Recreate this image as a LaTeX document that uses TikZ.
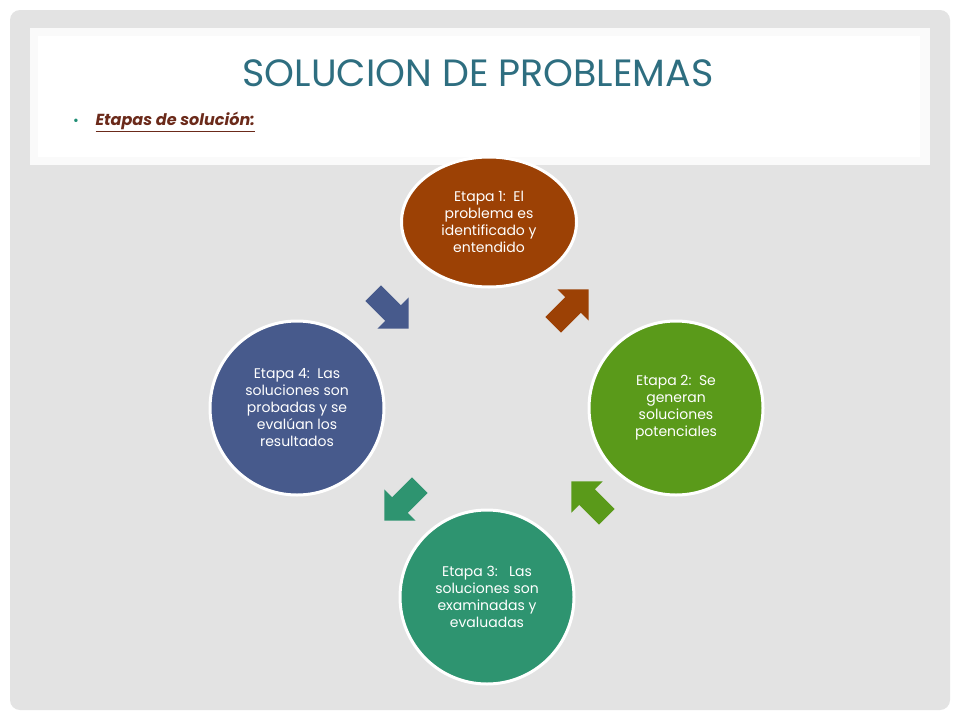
\documentclass[tikz,border=0pt]{standalone}
\usepackage{fontspec}
\setmainfont{Poppins}
\usetikzlibrary{shapes.geometric}
\begin{document}
\begin{tikzpicture}[x=1pt,y=-1pt,
  stage/.style={draw=white,line width=3pt,text=white,align=center,font=\fontsize{14}{17}\selectfont,inner sep=0pt}]
\definecolor{cA}{HTML}{9C4105}\definecolor{cB}{HTML}{5A9A1A}
\definecolor{cC}{HTML}{2E9470}\definecolor{cD}{HTML}{475A8C}
\definecolor{ttl}{HTML}{2E6E80}\definecolor{bul}{HTML}{6B2A1A}
\useasboundingbox (0,0) rectangle (960,720);
\fill[white] (0,0) rectangle (960,720);
\fill[gray!22,rounded corners=10pt] (10,10) rectangle (950,710);
\fill[white!96!gray] (30,28) rectangle (930,165);
\fill[white] (38,36) rectangle (920,157);
\node[text=ttl,font=\fontsize{38}{40}\selectfont] (title) at (478,73) {SOLUCION DE PROBLEMAS};
\node[text=cC!70!teal,font=\fontsize{14}{14}\selectfont] (dot) at (76,122) {•};
\node[anchor=west,text=bul,font=\fontsize{16}{16}\selectfont\bfseries\itshape] (sub) at (92,122) {\underline{Etapas de solución:}};
\node[stage,ellipse,fill=cA,minimum width=175,minimum height=130] (s1) at (489,222) {Etapa 1:\ \ El\\problema es\\identificado y\\entendido};
\node[stage,circle,fill=cB,minimum size=174] (s2) at (676,408) {Etapa 2:\ \ Se\\generan\\soluciones\\potenciales};
\node[stage,circle,fill=cC,minimum size=174] (s3) at (487,597) {Etapa 3:\ \ \ Las\\soluciones son\\examinadas y\\evaluadas};
\node[stage,circle,fill=cD,minimum size=174] (s4) at (297,408) {Etapa 4:\ \ Las\\soluciones son\\probadas y se\\evalúan los\\resultados};
\foreach \x/\y/\a/\c in {573/305/45/cA, 587/497/135/cB, 400/505/-135/cC, 393/313/-45/cD}{
  \fill[\c,shift={(\x,\y)},rotate=\a] (-28,-11) -- (0,-11) -- (0,-22) -- (22,0) -- (0,22) -- (0,11) -- (-28,11) -- cycle;
}
\end{tikzpicture}
\end{document}
